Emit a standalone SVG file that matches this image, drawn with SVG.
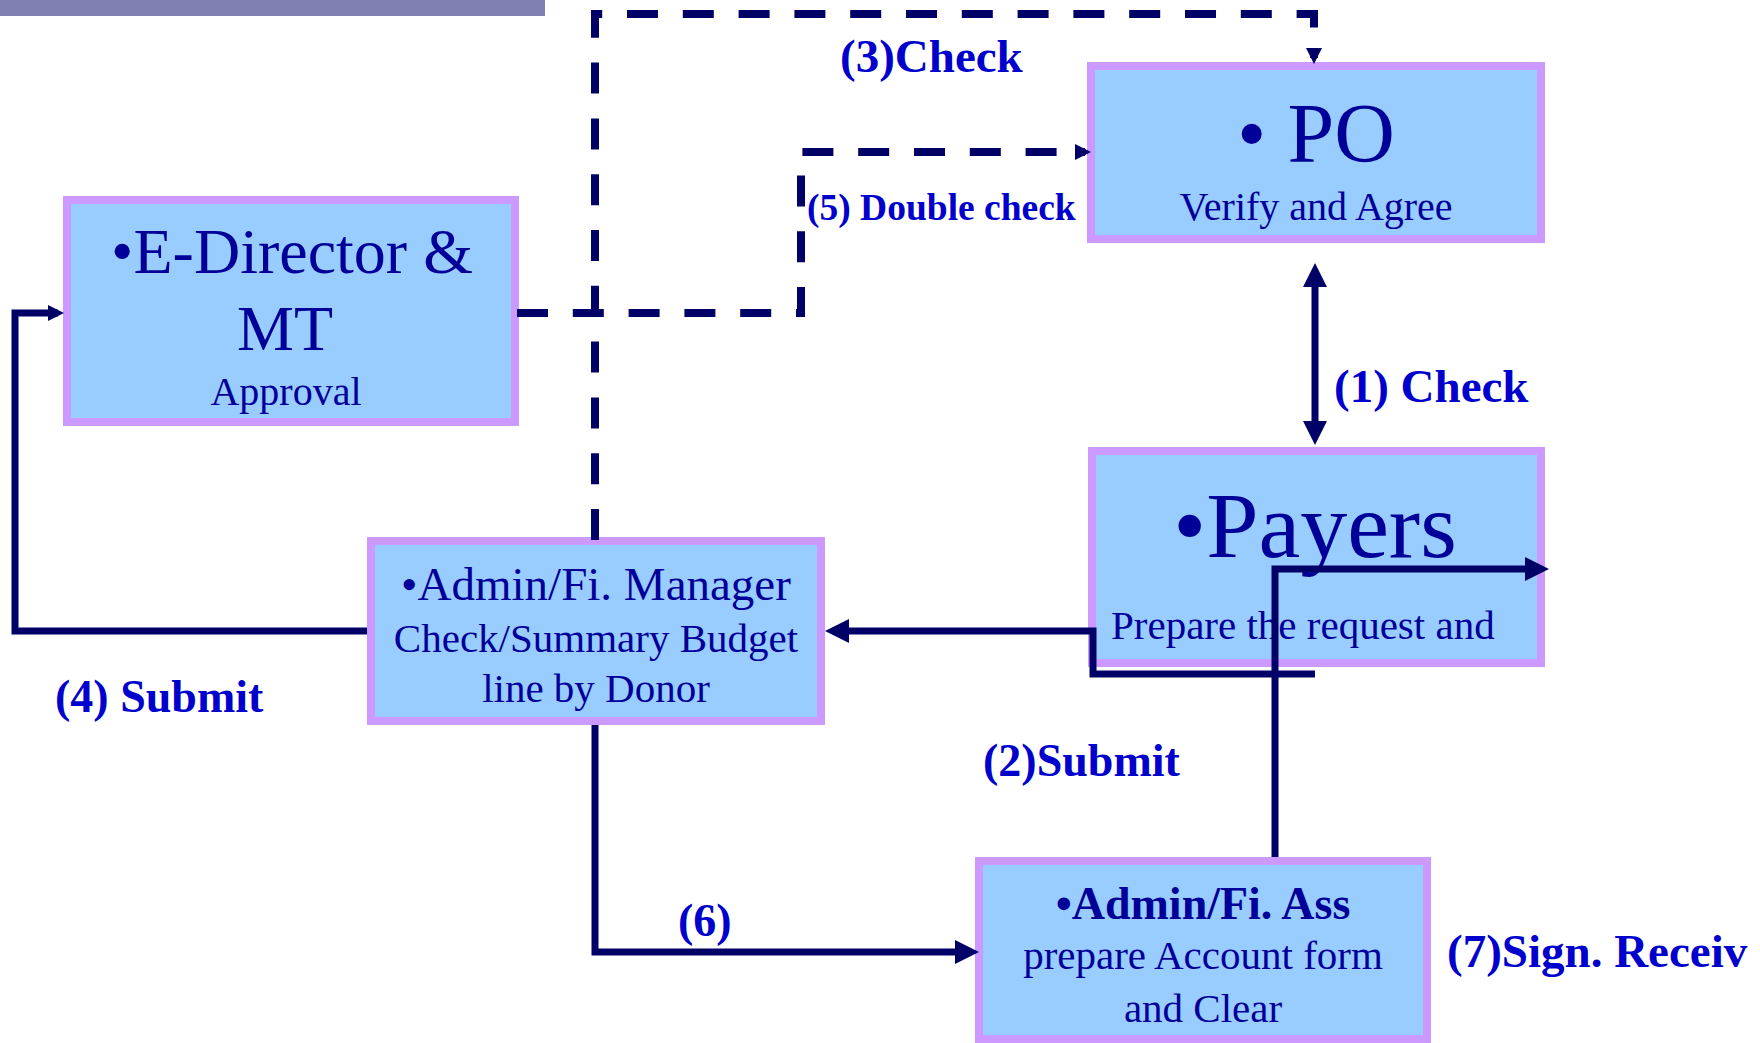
<svg xmlns="http://www.w3.org/2000/svg" width="1760" height="1043" viewBox="0 0 1760 1043">
<style>
.box{fill:#99ccff;stroke:#cc99ff;stroke-width:8}
.nt{font-family:"Liberation Serif","Times New Roman",serif;fill:#000099;text-anchor:middle}
.lb{font-family:"Liberation Serif","Times New Roman",serif;fill:#0000cc;font-weight:bold}
.c{fill:none;stroke:#000066;stroke-width:7;stroke-linejoin:miter}
.d{fill:none;stroke:#000066;stroke-width:8;stroke-dasharray:31 24.8;stroke-linejoin:miter}
</style>
<defs>
<marker id="aL" markerUnits="userSpaceOnUse" markerWidth="24" markerHeight="24" viewBox="0 0 24 24" refX="14" refY="12" orient="auto-start-reverse"><path d="M0,0 L24,12 L0,24 z" fill="#000066"/></marker>
<marker id="aS" markerUnits="userSpaceOnUse" markerWidth="16" markerHeight="16" viewBox="0 0 16 16" refX="10" refY="8" orient="auto-start-reverse"><path d="M0,0 L16,8 L0,16 z" fill="#000066"/></marker>
</defs>
<rect x="0" y="0" width="545" height="16" fill="#8080b3"/>

<g id="node-director">
<rect class="box" x="67" y="200" width="448" height="222"/>
<text class="nt" x="292" y="273" font-size="64">•E-Director &amp;</text>
<text class="nt" x="285" y="350" font-size="64">MT</text>
<text class="nt" x="286" y="405" font-size="40">Approval</text>
</g>

<g id="node-po">
<rect class="box" x="1091" y="66" width="450" height="173"/>
<text class="nt" x="1316" y="162" font-size="84">• PO</text>
<text class="nt" x="1316" y="220" font-size="40">Verify and Agree</text>
</g>

<g id="node-payers">
<rect class="box" x="1092" y="451" width="449" height="212"/>
<text class="nt" x="1315" y="557" font-size="94">•Payers</text>
<text class="nt" x="1111" y="639" font-size="41" style="text-anchor:start">Prepare the request and</text>
</g>

<g id="node-manager">
<rect class="box" x="371" y="541" width="450" height="180"/>
<text class="nt" x="596" y="600" font-size="47">•Admin/Fi. Manager</text>
<text class="nt" x="596" y="652" font-size="41">Check/Summary Budget</text>
<text class="nt" x="596" y="702" font-size="41">line by Donor</text>
</g>

<g id="node-assistant">
<rect class="box" x="979" y="861" width="448" height="178"/>
<text class="nt" x="1203" y="919" font-size="46" font-weight="bold">•Admin/Fi. Ass</text>
<text class="nt" x="1203" y="969" font-size="41">prepare Account form</text>
<text class="nt" x="1203" y="1022" font-size="41">and Clear</text>
</g>

<g id="connectors">
<path class="d" d="M595 540 V14 H1314 V58" marker-end="url(#aS)"/>
<path class="d" d="M517 313 H801 V152 H1085" marker-end="url(#aS)"/>
<path class="c" d="M1315 273 V435" marker-start="url(#aL)" marker-end="url(#aL)"/>
<path class="c" d="M1315 674 H1093 V631 H835" marker-end="url(#aL)"/>
<path class="c" d="M367 631 H15 V313 H58" marker-end="url(#aS)"/>
<path class="c" d="M595 725 V952 H969" marker-end="url(#aL)"/>
<path class="c" d="M1275 857 V569 H1539" marker-end="url(#aL)"/>
</g>

<g id="labels">
<text class="lb" x="840" y="72" font-size="47">(3)Check</text>
<text class="lb" x="807" y="220" font-size="37.5">(5) Double check</text>
<text class="lb" x="1334" y="402" font-size="47">(1) Check</text>
<text class="lb" x="983" y="776" font-size="46">(2)Submit</text>
<text class="lb" x="55" y="712" font-size="46">(4) Submit</text>
<text class="lb" x="678" y="936" font-size="46">(6)</text>
<text class="lb" x="1447" y="967" font-size="47">(7)Sign. Receiv</text>
</g>
</svg>
